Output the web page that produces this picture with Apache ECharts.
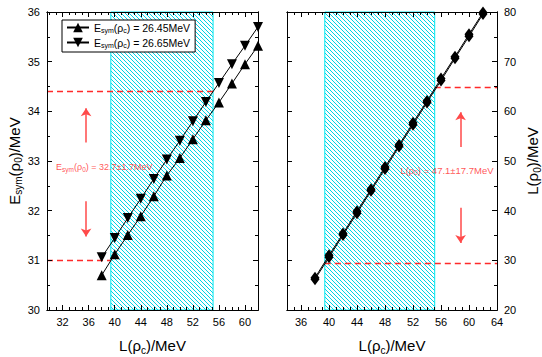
<!DOCTYPE html>
<html><head><meta charset="utf-8">
<script src="https://cdn.jsdelivr.net/npm/echarts@6/dist/echarts.min.js"></script>
<style>html,body{margin:0;padding:0;background:#fff}#c{width:542px;height:357px}</style>
</head><body><div id="c"></div>
<script>
// ---------------- data ----------------
const Lc = [38, 40, 42, 44, 46, 48, 50, 52, 54, 56, 58, 60, 62];
const esymA = [30.70, 31.12, 31.51, 31.89, 32.29, 32.71, 33.06, 33.44, 33.82, 34.18, 34.56, 34.95, 35.32]; // Esym(rho_c)=26.45
const esymB = [31.06, 31.45, 31.85, 32.24, 32.64, 33.03, 33.41, 33.80, 34.19, 34.57, 34.95, 35.32, 35.70]; // Esym(rho_c)=26.65
const L0A = [26.2, 30.6, 35.1, 39.5, 44.0, 48.4, 52.9, 57.3, 61.8, 66.2, 70.7, 75.1, 79.6];
const L0B = [26.5, 31.0, 35.4, 39.9, 44.3, 48.8, 53.2, 57.7, 62.1, 66.6, 71.0, 75.5, 79.9];
const seriesNames = ['Esym(ρc) = 26.45MeV', 'Esym(ρc) = 26.65MeV'];
const seriesLabels = ['E{s|sym}(ρ{s|c}) = 26.45MeV', 'E{s|sym}(ρ{s|c}) = 26.65MeV'];

const hatchL = [39.4, 55.1];           // band of L(rho_c)
const esymRange = [31.0, 34.4];        // 32.7 +- 1.7
const L0Range = [29.4, 64.8];          // 47.1 +- 17.7
const leftArrowX = 35.6, leftArrowUp = [33.37, 34.06], leftArrowDown = [32.19, 31.48];
const rightArrowX = 58.8, rightArrowUp = [52.8, 59.8], rightArrowDown = [40.6, 33.5];
const leftNote = {x: 31.0, y: 32.88, text: 'E{s|sym}(ρ{s|0}) = 32.7±1.7MeV'};
const rightNote = {x: 50.2, y: 48.1, text: 'L(ρ{s|0}) = 47.1±17.7MeV'};

const leftXRange = [29.6, 62], rightXRange = [34, 64];
const leftYRange = [30, 36], rightYRange = [20, 80];
const leftXTicks = [32, 36, 40, 44, 48, 52, 56, 60];
const rightXTicks = [36, 40, 44, 48, 52, 56, 60, 64];
const leftYTicks = [30, 31, 32, 33, 34, 35, 36];
const rightYTicks = [20, 30, 40, 50, 60, 70, 80];
const leftXMinorStep = 1, rightXMinorStep = 1, leftYMinorStep = 0.5, rightYMinorStep = 5;

// ---------------- helpers ----------------
function steps(a, b, s) { const r = []; for (let v = Math.ceil(a / s) * s; v <= b + 1e-9; v += s) r.push(+v.toFixed(4)); return r; }
const FONT = 'Liberation Sans, Arial, sans-serif';
const subRich = {s: {fontSize: 10, fontFamily: FONT, color: '#000', padding: [9, 0, 0, 0]}};

function ax(kind, grid, pos, range, ticks, len, showLabel, extra) {
  const o = {
    type: 'value', gridIndex: grid, position: pos, min: range[0], max: range[1], z: 10,
    axisLine: {show: true, onZero: false, lineStyle: {color: '#000', width: 1}},
    axisTick: {show: true, inside: true, length: len, customValues: ticks, lineStyle: {color: '#000', width: 1}},
    axisLabel: {show: showLabel, customValues: ticks, color: '#000', fontSize: 11, fontFamily: FONT,
                margin: kind === 'x' ? 6 : 7},
    splitLine: {show: false}
  };
  return Object.assign(o, extra || {});
}

// hatch pattern
const pc = document.createElement('canvas');
pc.width = 8; pc.height = 8;
const g = pc.getContext('2d');
g.strokeStyle = '#00d4e6'; g.lineWidth = 1;
for (const c of [-8, -4, 0, 4, 8]) { g.beginPath(); g.moveTo(0, c); g.lineTo(8, 8 + c); g.stroke(); }

const xAxis = [
  ax('x', 0, 'bottom', leftXRange, leftXTicks, 5, true, {
    name: 'L(ρ{s|c})/MeV', nameLocation: 'middle', nameGap: 26,
    nameTextStyle: {fontSize: 15, fontFamily: FONT, color: '#000', rich: subRich}}),
  ax('x', 0, 'bottom', leftXRange, steps(leftXRange[0], leftXRange[1], leftXMinorStep), 3, false),
  ax('x', 0, 'top', leftXRange, leftXTicks, 5, false),
  ax('x', 0, 'top', leftXRange, steps(leftXRange[0], leftXRange[1], leftXMinorStep), 3, false),
  ax('x', 1, 'bottom', rightXRange, rightXTicks, 5, true, {
    name: 'L(ρ{s|c})/MeV', nameLocation: 'middle', nameGap: 26,
    nameTextStyle: {fontSize: 15, fontFamily: FONT, color: '#000', rich: subRich}}),
  ax('x', 1, 'bottom', rightXRange, steps(rightXRange[0], rightXRange[1], rightXMinorStep), 3, false),
  ax('x', 1, 'top', rightXRange, rightXTicks, 5, false),
  ax('x', 1, 'top', rightXRange, steps(rightXRange[0], rightXRange[1], rightXMinorStep), 3, false)
];
const yAxis = [
  ax('y', 0, 'left', leftYRange, leftYTicks, 5, true, {
    name: 'E{s|sym}(ρ{s|0})/MeV', nameLocation: 'middle', nameGap: 22, nameRotate: 90,
    nameTextStyle: {fontSize: 15, fontFamily: FONT, color: '#000', rich: subRich}}),
  ax('y', 0, 'left', leftYRange, steps(leftYRange[0], leftYRange[1], leftYMinorStep), 3, false),
  ax('y', 0, 'right', leftYRange, leftYTicks, 5, false),
  ax('y', 0, 'right', leftYRange, steps(leftYRange[0], leftYRange[1], leftYMinorStep), 3, false),
  ax('y', 1, 'right', rightYRange, rightYTicks, 5, true, {
    name: 'L(ρ{s|0})/MeV', nameLocation: 'middle', nameGap: 26, nameRotate: 90,
    nameTextStyle: {fontSize: 15, fontFamily: FONT, color: '#000', rich: subRich}}),
  ax('y', 1, 'right', rightYRange, steps(rightYRange[0], rightYRange[1], rightYMinorStep), 3, false),
  ax('y', 1, 'left', rightYRange, rightYTicks, 5, false),
  ax('y', 1, 'left', rightYRange, steps(rightYRange[0], rightYRange[1], rightYMinorStep), 3, false)
];

const RED = '#ff2a2a';
const dashStyle = {color: RED, width: 1.3, type: [6, 4]};
const arrowStyle = {color: '#ff4a4a', width: 1.5, type: 'solid'};
function seg(x1, y1, x2, y2, style, sym) {
  return [{coord: [x1, y1], lineStyle: style, symbol: 'none'}, {coord: [x2, y2], lineStyle: style, symbol: sym}];
}
const downTri = 'path://M0,0 L10,0 L5,9 Z';
const noteRich = {s: {fontSize: 6.5, color: RED, fontFamily: FONT, padding: [5, 0, 0, 0]}};

const series = [
  {type: 'line', xAxisIndex: 0, yAxisIndex: 0, data: [], silent: true, z: 1,
   markArea: {silent: true, itemStyle: {color: {image: pc, repeat: 'repeat'}, borderColor: '#00e8f0', borderWidth: 1},
              data: [[{xAxis: hatchL[0]}, {xAxis: hatchL[1]}]]},
   markLine: {silent: true, symbol: ['none', 'none'], symbolSize: 8, label: {show: false}, animation: false,
              data: [
                seg(leftXRange[0], esymRange[1], hatchL[1], esymRange[1], dashStyle, 'none'),
                seg(leftXRange[0], esymRange[0], hatchL[0], esymRange[0], dashStyle, 'none'),
                seg(leftArrowX, leftArrowUp[0], leftArrowX, leftArrowUp[1], arrowStyle, 'arrow'),
                seg(leftArrowX, leftArrowDown[0], leftArrowX, leftArrowDown[1], arrowStyle, 'arrow')
              ]}},
  {type: 'line', xAxisIndex: 4, yAxisIndex: 4, data: [], silent: true, z: 1,
   markArea: {silent: true, itemStyle: {color: {image: pc, repeat: 'repeat'}, borderColor: '#00e8f0', borderWidth: 1},
              data: [[{xAxis: hatchL[0]}, {xAxis: hatchL[1]}]]},
   markLine: {silent: true, symbol: ['none', 'none'], symbolSize: 8, label: {show: false}, animation: false,
              data: [
                seg(hatchL[1], L0Range[1], rightXRange[1], L0Range[1], dashStyle, 'none'),
                seg(hatchL[0], L0Range[0], rightXRange[1], L0Range[0], dashStyle, 'none'),
                seg(rightArrowX, rightArrowUp[0], rightArrowX, rightArrowUp[1], arrowStyle, 'arrow'),
                seg(rightArrowX, rightArrowDown[0], rightArrowX, rightArrowDown[1], arrowStyle, 'arrow')
              ]}},
  {type: 'line', name: seriesNames[0], xAxisIndex: 0, yAxisIndex: 0, data: Lc.map((x, i) => [x, esymA[i]]),
   symbol: 'triangle', symbolSize: 10, lineStyle: {color: '#000', width: 1}, itemStyle: {color: '#000'}, z: 5},
  {type: 'line', name: seriesNames[1], xAxisIndex: 0, yAxisIndex: 0, data: Lc.map((x, i) => [x, esymB[i]]),
   symbol: downTri, symbolSize: 10, lineStyle: {color: '#000', width: 1}, itemStyle: {color: '#000'}, z: 5},
  {type: 'line', name: 'rA', xAxisIndex: 4, yAxisIndex: 4, data: Lc.map((x, i) => [x, L0A[i]]),
   symbol: 'diamond', symbolSize: [9, 12], lineStyle: {color: '#000', width: 1}, itemStyle: {color: '#000'}, z: 5},
  {type: 'line', name: 'rB', xAxisIndex: 4, yAxisIndex: 4, data: Lc.map((x, i) => [x, L0B[i]]),
   symbol: 'diamond', symbolSize: [9, 12], lineStyle: {color: '#000', width: 1}, itemStyle: {color: '#000'}, z: 5},
  {type: 'scatter', xAxisIndex: 0, yAxisIndex: 0, data: [[leftNote.x, leftNote.y]], symbolSize: 0, silent: true,
   itemStyle: {color: 'rgba(0,0,0,0)'}, z: 6,
   label: {show: true, position: 'right', distance: 0, formatter: leftNote.text, color: RED, fontSize: 9, fontFamily: FONT, rich: noteRich}},
  {type: 'scatter', xAxisIndex: 4, yAxisIndex: 4, data: [[rightNote.x, rightNote.y]], symbolSize: 0, silent: true,
   itemStyle: {color: 'rgba(0,0,0,0)'}, z: 6,
   label: {show: true, position: 'right', distance: 0, formatter: rightNote.text, color: RED, fontSize: 9.5, fontFamily: FONT, rich: noteRich}}
];

const chart = echarts.init(document.getElementById('c'), null, {renderer: 'svg'});
chart.setOption({
  animation: false,
  backgroundColor: '#fff',
  textStyle: {fontFamily: FONT},
  grid: [
    {left: 47, top: 12, width: 211, height: 298, outerBoundsMode: 'none'},
    {left: 287, top: 12, width: 210, height: 298, outerBoundsMode: 'none'}
  ],
  legend: {
    data: seriesNames, left: 62, top: 20, orient: 'vertical', borderColor: '#000', borderWidth: 1,
    padding: [2, 5, 3, 4], itemGap: 3, itemWidth: 22, itemHeight: 12, backgroundColor: '#fff',
    formatter: name => seriesLabels[seriesNames.indexOf(name)],
    textStyle: {fontSize: 10.5, color: '#000', fontFamily: FONT,
                rich: {s: {fontSize: 7, color: '#000', fontFamily: FONT, padding: [6, 0, 0, 0]}}}
  },
  xAxis, yAxis, series
});
</script></body></html>
